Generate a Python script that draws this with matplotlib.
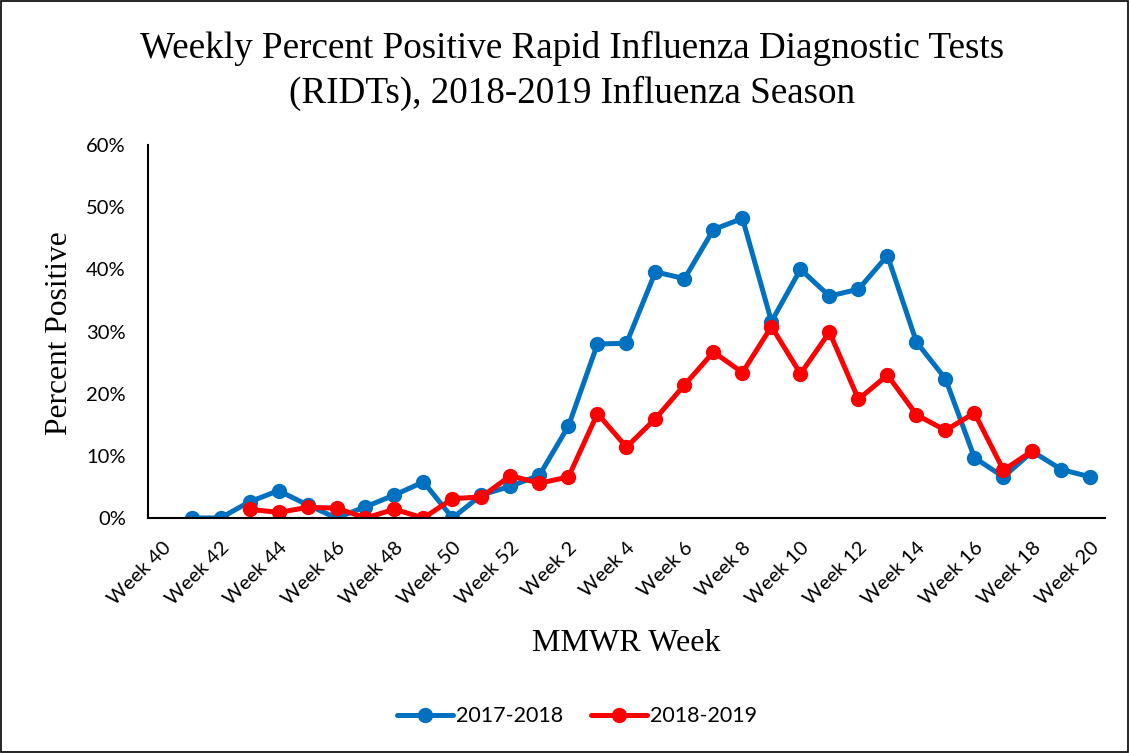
import numpy as np
import matplotlib.pyplot as plt
from matplotlib.patches import Rectangle

# MMWR weeks 40-52 then 1-20
weeks = [f"Week {w}" for w in list(range(40, 53)) + list(range(1, 21))]
nan = np.nan

# percent positive
season_1718 = [nan, 0, 0, 2.6, 4.4, 2.1, 0, 1.8, 3.7, 5.8, 0, 3.7, 5.1,
               6.9, 14.8, 28.0, 28.1, 39.6, 38.5, 46.4, 48.2, 31.6, 40.0,
               35.7, 36.8, 42.2, 28.3, 22.4, 9.7, 6.6, 10.7, 7.8, 6.6]
season_1819 = [nan, nan, nan, 1.4, 0.9, 1.7, 1.6, 0, 1.4, 0, 3.1, 3.4, 6.8,
               5.6, 6.6, 16.8, 11.4, 16.0, 21.4, 26.7, 23.4, 30.8, 23.2,
               29.9, 19.1, 23.0, 16.6, 14.1, 16.9, 7.7, 10.8, nan, nan]
series_names = ["2017-2018", "2018-2019"]
colors = ["#0070C0", "#FF0000"]

serif = "Liberation Serif"
sans = "Lato"

fig = plt.figure(figsize=(11.29, 7.53), dpi=100)
ax = fig.add_axes([0.1311, 0.3121, 0.8476, 0.4953])

x = np.arange(len(weeks))
for vals, name, c in zip([season_1718, season_1819], series_names, colors):
    ax.plot(x, np.array(vals) / 100, color=c, lw=3.6, marker="o", ms=10,
            label=name, solid_capstyle="round")

ax.set_xlim(-0.5, len(weeks) - 0.5)
ax.set_ylim(0, 0.6)
ax.set_yticks(np.arange(0, 0.61, 0.1))
ax.set_yticklabels([f"{int(round(v * 100))}%" for v in np.arange(0, 0.61, 0.1)],
                   fontsize=14.5, family=sans)
ax.set_xticks(x[::2])
ax.set_xticklabels(weeks[::2], rotation=45, ha="right", rotation_mode="anchor",
                   fontsize=14.5, family=sans)
ax.tick_params(length=0)
ax.tick_params(axis="y", pad=16)
ax.tick_params(axis="x", pad=15)
for s in ["top", "right"]:
    ax.spines[s].set_visible(False)
for s in ["left", "bottom"]:
    ax.spines[s].set_linewidth(1.5)

fig.text(0.507, 0.936, "Weekly Percent Positive Rapid Influenza Diagnostic Tests",
         ha="center", va="center", fontsize=26.7, family=serif)
fig.text(0.507, 0.876, "(RIDTs), 2018-2019 Influenza Season",
         ha="center", va="center", fontsize=26.7, family=serif)
fig.text(0.053, 0.558, "Percent Positive", rotation=90, ha="center", va="center",
         fontsize=22.7, family=serif)
fig.text(0.555, 0.146, "MMWR Week", ha="center", va="center",
         fontsize=23, family=serif)

fig.legend(loc="center", bbox_to_anchor=(0.511, 0.049), ncol=2, frameon=False,
           prop={"family": sans, "size": 15.5}, handlelength=2.6,
           columnspacing=1.3, handletextpad=0.15)

fig.patches.append(Rectangle((0.001, 0.001), 0.998, 0.998, transform=fig.transFigure,
                             fill=False, edgecolor="black", lw=1.2))

fig.savefig("out.png", dpi=100)
